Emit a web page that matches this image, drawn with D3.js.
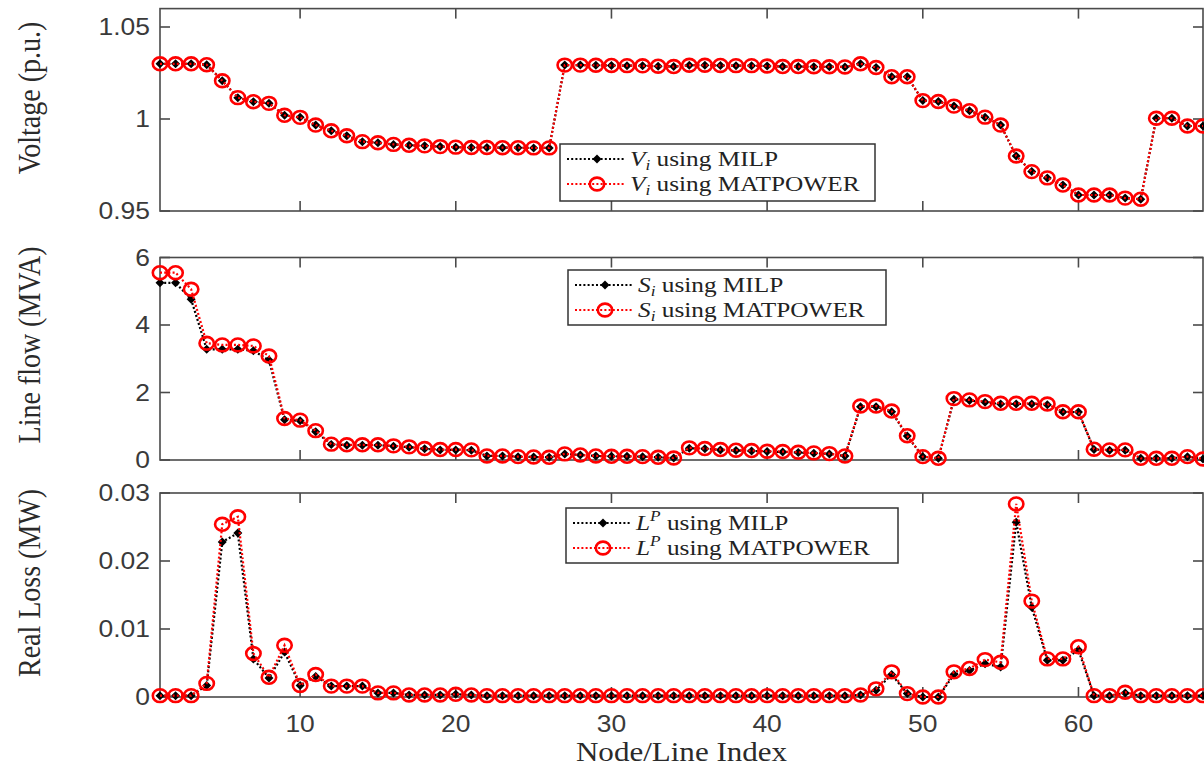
<!DOCTYPE html>
<html>
<head>
<meta charset="utf-8">
<script src="https://cdn.jsdelivr.net/npm/d3@7"></script>
<style>
  html, body { margin: 0; padding: 0; background: #fff; }
  svg { display: block; }
</style>
</head>
<body>
<div id="chart"></div>
<script>
// ---- data (index 1..68) ----
var INDEX = d3.range(1, 69);

var V_MILP = [
  1.030, 1.030, 1.030, 1.0295, 1.0208, 1.0116, 1.0094, 1.0085, 1.0020, 1.0009,
  0.9967, 0.9936, 0.9909, 0.9877, 0.9871, 0.9862, 0.9857, 0.9854, 0.9850, 0.9847,
  0.9845, 0.9845, 0.9844, 0.9844, 0.9843, 0.9843, 1.0293, 1.0293, 1.0292, 1.0291,
  1.0290, 1.0289, 1.0287, 1.0285, 1.0292, 1.0292, 1.0291, 1.0290, 1.0290, 1.0288,
  1.0285, 1.0285, 1.0284, 1.0284, 1.0283, 1.0300, 1.0280, 1.0230, 1.0230, 1.0100,
  1.0095, 1.0070, 1.0045, 1.0010, 0.9967, 0.9799, 0.9714, 0.9680, 0.9641, 0.9587,
  0.9587, 0.9587, 0.9570, 0.9564, 1.0004, 1.0004, 0.9962, 0.9962
];
var V_MATPOWER = V_MILP.slice();

var S_MILP = [
  5.25, 5.25, 4.76, 3.28, 3.28, 3.28, 3.24, 2.96, 1.19, 1.16,
  0.84, 0.46, 0.44, 0.44, 0.44, 0.41, 0.38, 0.33, 0.30, 0.30,
  0.29, 0.12, 0.12, 0.10, 0.09, 0.08, 0.18, 0.15, 0.12, 0.11,
  0.11, 0.10, 0.08, 0.06, 0.35, 0.33, 0.30, 0.28, 0.27, 0.25,
  0.24, 0.22, 0.20, 0.18, 0.12, 1.58, 1.58, 1.43, 0.71, 0.10,
  0.05, 1.80, 1.76, 1.71, 1.66, 1.66, 1.66, 1.64, 1.42, 1.42,
  0.31, 0.29, 0.29, 0.05, 0.05, 0.05, 0.10, 0.03
];
var S_MATPOWER = [
  5.55, 5.55, 5.06, 3.46, 3.41, 3.41, 3.38, 3.08, 1.23, 1.18,
  0.87, 0.47, 0.45, 0.45, 0.45, 0.42, 0.39, 0.34, 0.31, 0.31,
  0.30, 0.12, 0.12, 0.10, 0.09, 0.08, 0.18, 0.15, 0.12, 0.11,
  0.11, 0.10, 0.08, 0.06, 0.36, 0.34, 0.31, 0.29, 0.28, 0.26,
  0.25, 0.23, 0.21, 0.19, 0.12, 1.60, 1.60, 1.45, 0.72, 0.10,
  0.05, 1.82, 1.78, 1.73, 1.68, 1.68, 1.68, 1.66, 1.43, 1.43,
  0.32, 0.30, 0.30, 0.05, 0.05, 0.05, 0.10, 0.03
];

var L_MILP = [
  0.0002, 0.0002, 0.0002, 0.0017, 0.0228, 0.0241, 0.0056, 0.0028, 0.0066, 0.0017,
  0.0030, 0.0016, 0.0016, 0.0016, 0.0006, 0.0006, 0.0003, 0.0003, 0.0003, 0.0004,
  0.0003, 0.0002, 0.0002, 0.0002, 0.0002, 0.0002, 0.0002, 0.0002, 0.0002, 0.0002,
  0.0002, 0.0002, 0.0002, 0.0002, 0.0002, 0.0002, 0.0002, 0.0002, 0.0002, 0.0002,
  0.0002, 0.0002, 0.0002, 0.0002, 0.0002, 0.0003, 0.0010, 0.0033, 0.0005, 0.0000,
  0.0000, 0.0033, 0.0039, 0.0049, 0.0044, 0.0257, 0.0132, 0.0054, 0.0054, 0.0069,
  0.0002, 0.0002, 0.0006, 0.0002, 0.0002, 0.0002, 0.0002, 0.0002
];
var L_MATPOWER = [
  0.0002, 0.0002, 0.0002, 0.0020, 0.0254, 0.0265, 0.0064, 0.0029, 0.0076, 0.0017,
  0.0033, 0.0016, 0.0016, 0.0016, 0.0006, 0.0006, 0.0003, 0.0003, 0.0003, 0.0004,
  0.0003, 0.0002, 0.0002, 0.0002, 0.0002, 0.0002, 0.0002, 0.0002, 0.0002, 0.0002,
  0.0002, 0.0002, 0.0002, 0.0002, 0.0002, 0.0002, 0.0002, 0.0002, 0.0002, 0.0002,
  0.0002, 0.0002, 0.0002, 0.0002, 0.0002, 0.0003, 0.0012, 0.0037, 0.0005, 0.0000,
  0.0000, 0.0037, 0.0042, 0.0055, 0.0051, 0.0284, 0.0141, 0.0056, 0.0056, 0.0074,
  0.0002, 0.0002, 0.0007, 0.0002, 0.0002, 0.0002, 0.0002, 0.0002
];

var X_TICKS   = [10, 20, 30, 40, 50, 60];
var V_TICKS   = [0.95, 1, 1.05];
var S_TICKS   = [0, 2, 4, 6];
var L_TICKS   = [0, 0.01, 0.02, 0.03];
var V_TICKFMT = ["0.95", "1", "1.05"];
var S_TICKFMT = ["0", "2", "4", "6"];
var L_TICKFMT = ["0", "0.01", "0.02", "0.03"];

// ---- layout ----
var W = 1204, H = 768;
var SX = 1.15;            // the reference is stretched horizontally
var LEFT = 160, RIGHT = 1203;
var TICK = 10;
var AXIS_COLOR = "#4a4a4a";
var SANS  = "'Liberation Sans', Arial, sans-serif";
var SERIF = "'Liberation Serif', 'Times New Roman', serif";

var PANELS = [
  { top: 8.6, bottom: 211, domain: [0.95, 1.06], ticks: V_TICKS, fmt: V_TICKFMT,
    label: "Voltage (p.u.)", labelY: 98, milp: V_MILP, mp: V_MATPOWER,
    sym: "V", mode: "sub", legend: { x: 560, y: 144, w: 315, h: 57 } },
  { top: 257.5, bottom: 460, domain: [0, 6], ticks: S_TICKS, fmt: S_TICKFMT,
    label: "Line flow (MVA)", labelY: 345, milp: S_MILP, mp: S_MATPOWER,
    sym: "S", mode: "sub", legend: { x: 568, y: 270, w: 318, h: 55 } },
  { top: 493, bottom: 697, domain: [0, 0.03], ticks: L_TICKS, fmt: L_TICKFMT,
    label: "Real Loss (MW)", labelY: 583, milp: L_MILP, mp: L_MATPOWER,
    sym: "L", mode: "sup", legend: { x: 566, y: 508, w: 332, h: 55 } }
];

var svg = d3.select("#chart").append("svg")
  .attr("width", W).attr("height", H);

var x = d3.scaleLinear().domain([1, 68]).range([LEFT, RIGHT]);

function stretched(parent, px, py, rot) {
  return parent.append("text")
    .attr("transform", "translate(" + px + "," + py + ") scale(" + SX + ",1)" + (rot ? " rotate(" + rot + ")" : ""));
}

function diamond(g, cx, cy) {
  g.append("path")
    .attr("d", "M" + cx + "," + (cy - 4.5) + " L" + (cx + 4.5) + "," + cy +
               " L" + cx + "," + (cy + 4.5) + " L" + (cx - 4.5) + "," + cy + "Z")
    .attr("fill", "#000");
}

function ring(g, cx, cy) {
  g.append("ellipse")
    .attr("cx", cx).attr("cy", cy)
    .attr("rx", 7.2).attr("ry", 6.4)
    .attr("fill", "none")
    .attr("stroke", "#ff0000")
    .attr("stroke-width", 2.6);
}

PANELS.forEach(function (p, pi) {
  var y = d3.scaleLinear().domain(p.domain).range([p.bottom, p.top]);
  var g = svg.append("g");

  // box
  g.append("rect")
    .attr("x", LEFT).attr("y", p.top)
    .attr("width", RIGHT - LEFT).attr("height", p.bottom - p.top)
    .attr("fill", "none").attr("stroke", AXIS_COLOR).attr("stroke-width", 1.6);

  // inward ticks on all four sides
  X_TICKS.forEach(function (t) {
    g.append("line").attr("x1", x(t)).attr("x2", x(t))
      .attr("y1", p.bottom).attr("y2", p.bottom - TICK)
      .attr("stroke", AXIS_COLOR).attr("stroke-width", 1.6);
    g.append("line").attr("x1", x(t)).attr("x2", x(t))
      .attr("y1", p.top).attr("y2", p.top + TICK)
      .attr("stroke", AXIS_COLOR).attr("stroke-width", 1.6);
  });
  p.ticks.forEach(function (t, i) {
    g.append("line").attr("x1", LEFT).attr("x2", LEFT + TICK)
      .attr("y1", y(t)).attr("y2", y(t))
      .attr("stroke", AXIS_COLOR).attr("stroke-width", 1.6);
    g.append("line").attr("x1", RIGHT).attr("x2", RIGHT - TICK)
      .attr("y1", y(t)).attr("y2", y(t))
      .attr("stroke", AXIS_COLOR).attr("stroke-width", 1.6);
    stretched(g, LEFT - 10, y(t) + 8)
      .attr("text-anchor", "end")
      .style("font-family", SANS).style("font-size", "23px")
      .attr("fill", "#3a3a3a")
      .text(p.fmt[i]);
  });

  // y label
  stretched(g, 40, p.labelY, -90)
    .attr("text-anchor", "middle")
    .style("font-family", SERIF).style("font-size", "28px")
    .attr("fill", "#2a2a2a")
    .text(p.label);

  // series
  var line = d3.line()
    .x(function (d, i) { return x(INDEX[i]); })
    .y(function (d) { return y(d); });

  g.append("path").datum(p.milp)
    .attr("d", line).attr("fill", "none")
    .attr("stroke", "#000").attr("stroke-width", 2.2)
    .attr("stroke-dasharray", "2 2.2");
  var mk1 = g.append("g");
  p.milp.forEach(function (d, i) { diamond(mk1, x(INDEX[i]), y(d)); });

  g.append("path").datum(p.mp)
    .attr("d", line).attr("fill", "none")
    .attr("stroke", "#ff0000").attr("stroke-width", 2.2)
    .attr("stroke-dasharray", "2 2.2");
  var mk2 = g.append("g");
  p.mp.forEach(function (d, i) { ring(mk2, x(INDEX[i]), y(d)); });

  // legend
  var L = p.legend;
  var lg = g.append("g");
  lg.append("rect")
    .attr("x", L.x).attr("y", L.y).attr("width", L.w).attr("height", L.h)
    .attr("fill", "#fff").attr("stroke", "#333").attr("stroke-width", 1.5);

  [["MILP", "#000"], ["MATPOWER", "#ff0000"]].forEach(function (row, ri) {
    var ry = L.y + 15 + ri * 25;
    lg.append("line")
      .attr("x1", L.x + 7).attr("x2", L.x + 65)
      .attr("y1", ry).attr("y2", ry)
      .attr("stroke", row[1]).attr("stroke-width", 2.2)
      .attr("stroke-dasharray", "2 2.2");
    if (ri === 0) diamond(lg, L.x + 37, ry); else ring(lg, L.x + 37, ry);

    var t = stretched(lg, L.x + 70, ry + 7)
      .style("font-family", SERIF).style("font-size", "22px")
      .attr("fill", "#222");
    t.append("tspan").style("font-style", "italic").text(p.sym);
    t.append("tspan")
      .style("font-style", "italic").style("font-size", "15px")
      .attr("dy", p.mode === "sub" ? 4 : -9)
      .text(p.mode === "sub" ? "i" : "P");
    t.append("tspan")
      .attr("dy", p.mode === "sub" ? -4 : 9)
      .text(" using " + row[0]);
  });

  // x tick labels on bottom panel only
  if (pi === PANELS.length - 1) {
    X_TICKS.forEach(function (t) {
      stretched(g, x(t), p.bottom + 35)
        .attr("text-anchor", "middle")
        .style("font-family", SANS).style("font-size", "23px")
        .attr("fill", "#3a3a3a")
        .text(t);
    });
    stretched(g, (LEFT + RIGHT) / 2, 761)
      .attr("text-anchor", "middle")
      .style("font-family", SERIF).style("font-size", "27px")
      .attr("fill", "#2a2a2a")
      .text("Node/Line Index");
  }
});
</script>
</body>
</html>
